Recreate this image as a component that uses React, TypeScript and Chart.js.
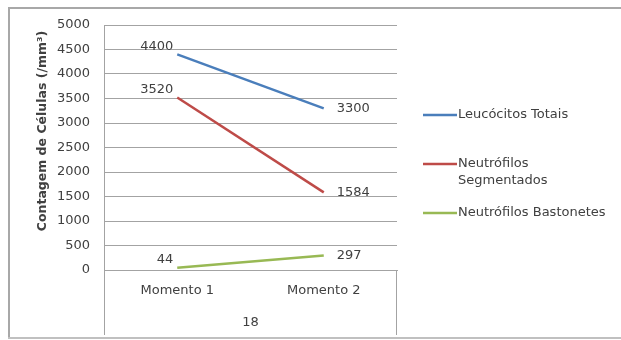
import React, { useEffect, useRef } from "react";
import { Chart, registerables } from "chart.js";

Chart.register(...registerables);

const categories = ["Momento 1", "Momento 2"];
const groupLabel = "18";
const leucocitos = [4400, 3300];
const segmentados = [3520, 1584];
const bastonetes = [44, 297];
const seriesNames = [["Leucócitos Totais"], ["Neutrófilos", "Segmentados"], ["Neutrófilos Bastonetes"]];
const seriesColors = ["#4A7EBB", "#BE4B48", "#98B954"];
const yAxisTitle = "Contagem de Células (/mm³)";
const yMin = 0;
const yMax = 5000;
const yStep = 500;

const FONT = "DejaVu Sans";
const TEXT = "#404040";
const GRID = "#a3a3a3";

const decorPlugin = {
  id: "decor",
  beforeDraw(chart: any) {
    const ctx = chart.ctx;
    ctx.save();
    ctx.fillStyle = "#ffffff";
    ctx.fillRect(0, 0, chart.width, chart.height);
    ctx.fillStyle = "#a8a8a8";
    ctx.fillRect(8, 7, 2, 332);
    ctx.fillRect(8, 7, chart.width - 8, 2);
    ctx.fillStyle = "#c0c0c0";
    ctx.fillRect(8, 337, chart.width - 8, 2);
    ctx.restore();
  },
  afterDraw(chart: any) {
    const ctx = chart.ctx;
    const a = chart.chartArea;
    ctx.save();
    ctx.strokeStyle = GRID;
    ctx.lineWidth = 1;
    ctx.beginPath();
    ctx.moveTo(Math.round(a.left) + 0.5, a.bottom);
    ctx.lineTo(Math.round(a.left) + 0.5, 335);
    ctx.moveTo(Math.round(a.right) - 0.5, a.bottom);
    ctx.lineTo(Math.round(a.right) - 0.5, 335);
    ctx.stroke();
    ctx.fillStyle = TEXT;
    ctx.font = `13px "${FONT}"`;
    ctx.textAlign = "center";
    ctx.textBaseline = "middle";
    ctx.fillText(groupLabel, (a.left + a.right) / 2, 323);
    ctx.save();
    ctx.translate(43, 131);
    ctx.rotate(-Math.PI / 2);
    ctx.font = `bold 12.5px "${FONT}"`;
    ctx.fillText(yAxisTitle, 0, 0);
    ctx.restore();
    const legendY = [115, 164, 213];
    seriesNames.forEach((lines, i) => {
      const y = legendY[i];
      ctx.strokeStyle = seriesColors[i];
      ctx.lineWidth = 2.5;
      ctx.beginPath();
      ctx.moveTo(423, y);
      ctx.lineTo(457, y);
      ctx.stroke();
      ctx.fillStyle = TEXT;
      ctx.font = `13px "${FONT}"`;
      ctx.textAlign = "left";
      ctx.textBaseline = "middle";
      lines.forEach((t, j) => ctx.fillText(t, 458, y + j * 17));
    });
    chart.data.datasets.forEach((ds: any, di: number) => {
      const meta = chart.getDatasetMeta(di);
      meta.data.forEach((pt: any, i: number) => {
        ctx.fillStyle = TEXT;
        ctx.font = `13px "${FONT}"`;
        ctx.textBaseline = "middle";
        const label = String(ds.data[i]);
        if (i === 0) {
          ctx.textAlign = "right";
          ctx.fillText(label, pt.x - 4, pt.y - 8);
        } else {
          ctx.textAlign = "left";
          ctx.fillText(label, pt.x + 13, pt.y);
        }
      });
    });
    ctx.restore();
  },
};

export default function App() {
  const ref = useRef<HTMLCanvasElement>(null);
  useEffect(() => {
    if (!ref.current) return;
    const chart = new Chart(ref.current, {
      type: "line",
      data: {
        labels: categories,
        datasets: [
          { label: seriesNames[0].join(" "), data: leucocitos, borderColor: seriesColors[0], backgroundColor: seriesColors[0] },
          { label: seriesNames[1].join(" "), data: segmentados, borderColor: seriesColors[1], backgroundColor: seriesColors[1] },
          { label: seriesNames[2].join(" "), data: bastonetes, borderColor: seriesColors[2], backgroundColor: seriesColors[2] },
        ],
      },
      options: {
        responsive: false,
        animation: false,
        devicePixelRatio: 1,
        elements: {
          line: { borderWidth: 2.5, tension: 0 },
          point: { radius: 0, hoverRadius: 0 },
        },
        layout: { padding: { top: 25, right: 224, bottom: 0, left: 0 } },
        plugins: { legend: { display: false }, tooltip: { enabled: false } },
        scales: {
          x: {
            type: "category",
            offset: true,
            grid: { display: false },
            border: { display: true, color: GRID, width: 1 },
            ticks: { color: TEXT, font: { family: FONT, size: 13 }, padding: 5, maxRotation: 0 },
            afterFit: (s: any) => { s.height = 70; },
          },
          y: {
            min: yMin,
            max: yMax,
            grid: { color: GRID, drawTicks: false, lineWidth: 1 },
            border: { display: true, color: GRID, width: 1 },
            ticks: {
              stepSize: yStep,
              color: TEXT,
              font: { family: FONT, size: 13 },
              padding: 14,
              callback: (v: any) => String(v),
            },
            afterFit: (s: any) => { s.width = 104; },
          },
        },
      },
      plugins: [decorPlugin],
    });
    return () => chart.destroy();
  }, []);
  return (
    <div style={{ position: "fixed", left: 0, top: 0, width: 621, height: 340 }}>
      <canvas ref={ref} width={621} height={340} style={{ display: "block" }} />
    </div>
  );
}
